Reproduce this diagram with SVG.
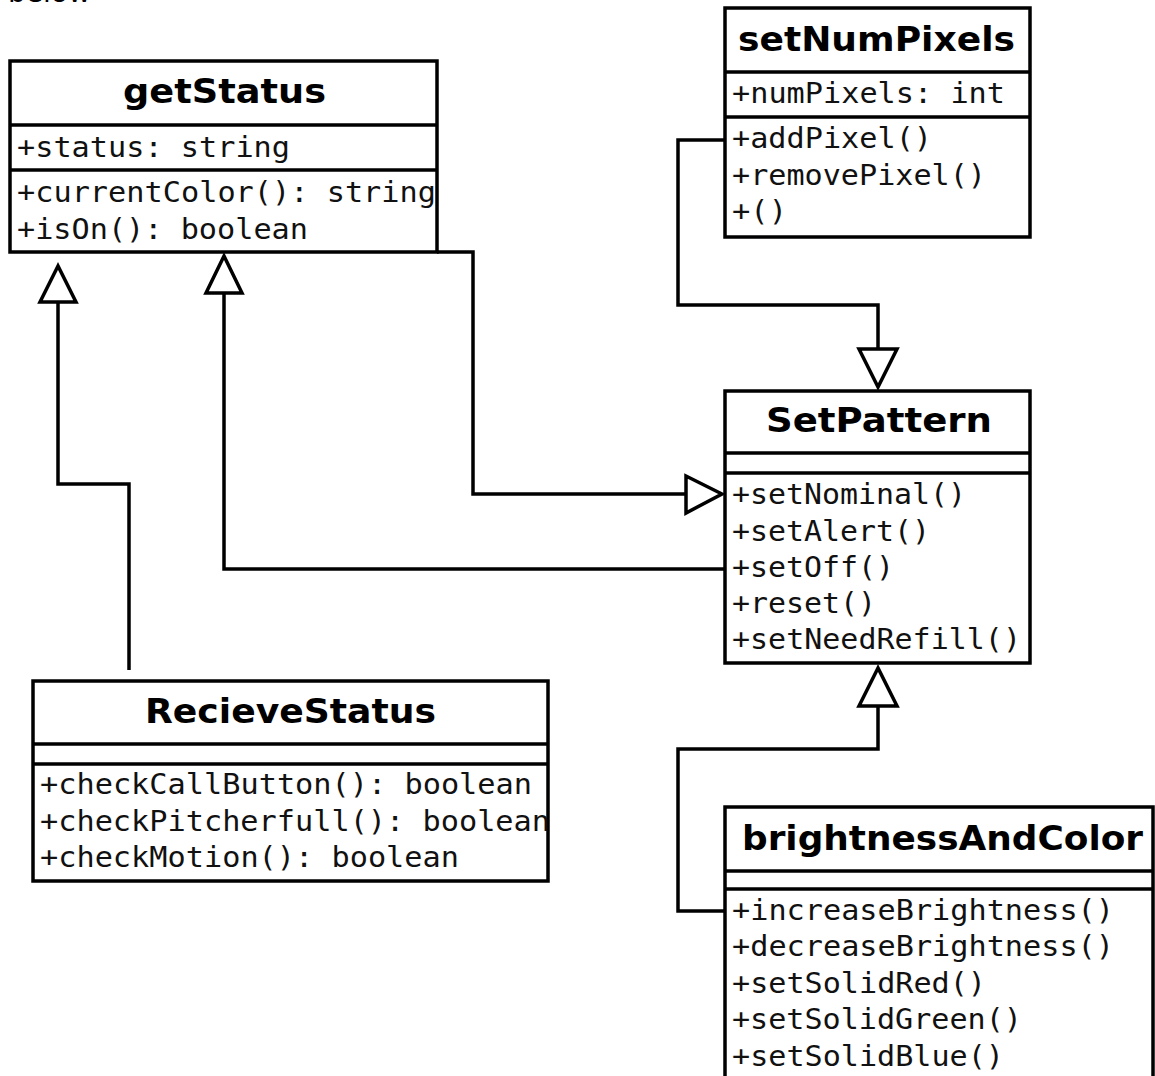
<svg xmlns="http://www.w3.org/2000/svg" width="1155" height="1076" viewBox="0 0 1155 1076">
<style>
.box{fill:#fff;stroke:#000;stroke-width:3.5}
.ln{fill:none;stroke:#000;stroke-width:3.5}
.title{font-family:"DejaVu Sans",sans-serif;font-weight:bold;font-size:33px;fill:#000}
.m{font-family:"DejaVu Sans Mono",monospace;font-size:29px;fill:#111}
.conn{fill:none;stroke:#000;stroke-width:3.5}
.tri{fill:#fff;stroke:#000;stroke-width:3.5;stroke-linejoin:miter}
.cap{font-family:"DejaVu Sans",sans-serif;font-size:28px;fill:#000}
</style>
<rect width="1155" height="1076" fill="#fff"/>
<text class="cap" x="8" y="2">below</text>

<g id="connectors">
  <polyline class="conn" points="129,670 129,484 58,484 58,302"/>
  <polygon class="tri" points="58,266 40,302 76,302"/>
  <polyline class="conn" points="725,569 224,569 224,293"/>
  <polygon class="tri" points="224,256 206,293 242,293"/>
  <polyline class="conn" points="437,252 473,252 473,494 686,494"/>
  <polygon class="tri" points="722,494 686,476 686,513"/>
  <polyline class="conn" points="725,140 678,140 678,305 878,305 878,349"/>
  <polygon class="tri" points="878,387 859,349 897,349"/>
  <polyline class="conn" points="725,911 678,911 678,749 878,749 878,706"/>
  <polygon class="tri" points="878,668 859,706 897,706"/>
</g>

<g id="getStatus">
  <rect class="box" x="10" y="61" width="427" height="191"/>
  <line class="ln" x1="10" y1="125" x2="437" y2="125"/>
  <line class="ln" x1="10" y1="170" x2="437" y2="170"/>
  <text class="title" x="123" y="103" textLength="203" lengthAdjust="spacingAndGlyphs">getStatus</text>
  <text class="m" x="17" y="157" textLength="273" lengthAdjust="spacingAndGlyphs">+status: string</text>
  <text class="m" x="17" y="202" textLength="419" lengthAdjust="spacingAndGlyphs">+currentColor(): string</text>
  <text class="m" x="17" y="239" textLength="291" lengthAdjust="spacingAndGlyphs">+isOn(): boolean</text>
</g>

<g id="setNumPixels">
  <rect class="box" x="725" y="8" width="305" height="229"/>
  <line class="ln" x1="725" y1="72" x2="1030" y2="72"/>
  <line class="ln" x1="725" y1="117" x2="1030" y2="117"/>
  <text class="title" x="738" y="51" textLength="277" lengthAdjust="spacingAndGlyphs">setNumPixels</text>
  <text class="m" x="732" y="103" textLength="273" lengthAdjust="spacingAndGlyphs">+numPixels: int</text>
  <text class="m" x="732" y="148" textLength="200" lengthAdjust="spacingAndGlyphs">+addPixel()</text>
  <text class="m" x="732" y="185" textLength="254" lengthAdjust="spacingAndGlyphs">+removePixel()</text>
  <text class="m" x="732" y="221" textLength="55" lengthAdjust="spacingAndGlyphs">+()</text>
</g>

<g id="SetPattern">
  <rect class="box" x="725" y="391" width="305" height="272"/>
  <line class="ln" x1="725" y1="453" x2="1030" y2="453"/>
  <line class="ln" x1="725" y1="473" x2="1030" y2="473"/>
  <text class="title" x="766" y="432" textLength="226" lengthAdjust="spacingAndGlyphs">SetPattern</text>
  <text class="m" x="732" y="504" textLength="234" lengthAdjust="spacingAndGlyphs">+setNominal()</text>
  <text class="m" x="732" y="541" textLength="198" lengthAdjust="spacingAndGlyphs">+setAlert()</text>
  <text class="m" x="732" y="577" textLength="162" lengthAdjust="spacingAndGlyphs">+setOff()</text>
  <text class="m" x="732" y="613" textLength="144" lengthAdjust="spacingAndGlyphs">+reset()</text>
  <text class="m" x="732" y="649" textLength="289" lengthAdjust="spacingAndGlyphs">+setNeedRefill()</text>
</g>

<g id="RecieveStatus">
  <rect class="box" x="33" y="681" width="515" height="200"/>
  <line class="ln" x1="33" y1="744" x2="548" y2="744"/>
  <line class="ln" x1="33" y1="764" x2="548" y2="764"/>
  <text class="title" x="145" y="723" textLength="291" lengthAdjust="spacingAndGlyphs">RecieveStatus</text>
  <text class="m" x="40" y="794" textLength="492" lengthAdjust="spacingAndGlyphs">+checkCallButton(): boolean</text>
  <text class="m" x="40" y="831" textLength="510" lengthAdjust="spacingAndGlyphs">+checkPitcherfull(): boolean</text>
  <text class="m" x="40" y="867" textLength="419" lengthAdjust="spacingAndGlyphs">+checkMotion(): boolean</text>
</g>

<g id="brightnessAndColor">
  <rect class="box" x="725" y="807" width="428" height="290"/>
  <line class="ln" x1="725" y1="871" x2="1153" y2="871"/>
  <line class="ln" x1="725" y1="889" x2="1153" y2="889"/>
  <text class="title" x="742" y="850" textLength="401" lengthAdjust="spacingAndGlyphs">brightnessAndColor</text>
  <text class="m" x="732" y="920" textLength="382" lengthAdjust="spacingAndGlyphs">+increaseBrightness()</text>
  <text class="m" x="732" y="956" textLength="382" lengthAdjust="spacingAndGlyphs">+decreaseBrightness()</text>
  <text class="m" x="732" y="993" textLength="254" lengthAdjust="spacingAndGlyphs">+setSolidRed()</text>
  <text class="m" x="732" y="1029" textLength="290" lengthAdjust="spacingAndGlyphs">+setSolidGreen()</text>
  <text class="m" x="732" y="1066" textLength="272" lengthAdjust="spacingAndGlyphs">+setSolidBlue()</text>
</g>
</svg>
